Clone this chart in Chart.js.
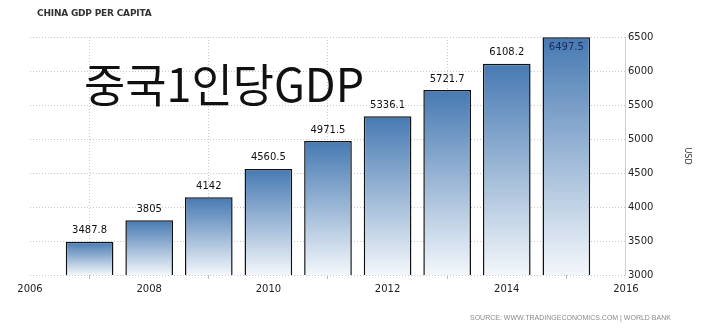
<!DOCTYPE html>
<html>
<head>
<meta charset="utf-8">
<script src="https://cdn.jsdelivr.net/npm/chart.js@4.4.0/dist/chart.umd.min.js"></script>
<style>
    html, body { margin: 0; padding: 0; background: #fff; }
    #wrap { position: relative; width: 720px; height: 331px; }
    #grafico { position: absolute; left: 0; top: 0; }
    .titulo { position: absolute; left: 37px; top: 8px; font: bold 9px "DejaVu Sans", sans-serif; color: #333; letter-spacing: -0.2px; }
    .sobreposto { position: absolute; left: 84px; top: 49px; font: 46px "Noto Sans CJK KR", sans-serif; color: #111; transform-origin: left top; transform: scaleX(0.975); white-space: nowrap; }
    .fonte { position: absolute; left: 470px; top: 314px; font: 7px "Liberation Sans", sans-serif; color: #8a8a8a; }
</style>
</head>
<body>
<div id="wrap">
    <canvas id="grafico" width="720" height="331"></canvas>
    <div class="titulo">CHINA GDP PER CAPITA</div>
    <div class="sobreposto">중국1인당GDP</div>
    <div class="fonte">SOURCE: WWW.TRADINGECONOMICS.COM | WORLD BANK</div>
</div>
<script>
// anos e valores
const anos = [2007, 2008, 2009, 2010, 2011, 2012, 2013, 2014, 2015];
const gdpPerCapita = [3487.8, 3805, 4142, 4560.5, 4971.5, 5336.1, 5721.7, 6108.2, 6497.5];
const rotulos = ['3487.8', '3805', '4142', '4560.5', '4971.5', '5336.1', '5721.7', '6108.2', '6497.5'];
const ticksAno = [2006, 2008, 2010, 2012, 2014, 2016];
const ticksUsd = [3000, 3500, 4000, 4500, 5000, 5500, 6000, 6500];

const pontos = anos.map((ano, i) => ({ x: ano, y: gdpPerCapita[i] }));

// gradiente por barra (escuro no topo, claro na base)
function corBarra(context) {
    const chart = context.chart;
    if (!chart.chartArea || !chart.scales.y) return '#6f98c6';
    const valor = context.raw ? context.raw.y : 3000;
    const yTopo = chart.scales.y.getPixelForValue(valor);
    const yBase = chart.scales.y.getPixelForValue(3000);
    const g = chart.ctx.createLinearGradient(0, yTopo, 0, yBase);
    g.addColorStop(0, '#4679b2');
    g.addColorStop(1, '#f3f7fb');
    return g;
}

// escreve o valor acima de cada barra
const rotulosPlugin = {
    id: 'rotulos',
    afterDatasetsDraw(chart) {
        const ctx = chart.ctx;
        const meta = chart.getDatasetMeta(0);
        ctx.save();
        ctx.font = '10px "DejaVu Sans", sans-serif';
        ctx.textAlign = 'center';
        meta.data.forEach((barra, i) => {
            let y = barra.y - 6;
            ctx.fillStyle = '#111';
            ctx.textBaseline = 'bottom';
            if (y - 12 < chart.chartArea.top) {
                // nao cabe em cima: vai dentro da barra
                y = barra.y + 5;
                ctx.textBaseline = 'top';
                ctx.fillStyle = '#1b2b5c';
            }
            ctx.fillText(rotulos[i], barra.x, y);
        });
        ctx.restore();
    }
};

new Chart(document.getElementById('grafico'), {
    type: 'bar',
    data: {
        datasets: [{
            data: pontos,
            backgroundColor: corBarra,
            borderColor: '#111',
            borderWidth: 1.5,
            barPercentage: 0.8,
            categoryPercentage: 1
        }]
    },
    options: {
        responsive: false,
        animation: false,
        layout: { padding: { left: 30, right: 12, top: 37, bottom: 32 } },
        plugins: {
            legend: { display: false },
            tooltip: { enabled: false }
        },
        scales: {
            x: {
                type: 'linear',
                min: 2006,
                max: 2016,
                offset: false,
                afterBuildTicks: (scale) => { scale.ticks = ticksAno.map(v => ({ value: v })); },
                ticks: {
                    callback: (v) => String(v),
                    color: '#222',
                    font: { family: 'DejaVu Sans', size: 10 },
                    maxRotation: 0,
                    padding: 4
                },
                grid: { color: '#c8c8c8', lineWidth: 1, tickLength: 4, tickColor: '#bbb' },
                border: { display: false, dash: [1, 2] }
            },
            y: {
                position: 'right',
                min: 3000,
                max: 6500,
                afterBuildTicks: (scale) => { scale.ticks = ticksUsd.map(v => ({ value: v })); },
                ticks: {
                    callback: (v) => String(v),
                    color: '#222',
                    font: { family: 'DejaVu Sans', size: 10 },
                    padding: 2
                },
                grid: { color: '#c8c8c8', lineWidth: 1, drawTicks: false },
                border: { display: true, color: '#d0d0d0', dash: [1, 2] },
                title: {
                    display: true,
                    text: 'USD',
                    color: '#333',
                    font: { family: 'DejaVu Sans', size: 8 },
                    padding: { top: 16, bottom: 27 }
                }
            }
        }
    },
    plugins: [rotulosPlugin]
});
</script>
</body>
</html>
